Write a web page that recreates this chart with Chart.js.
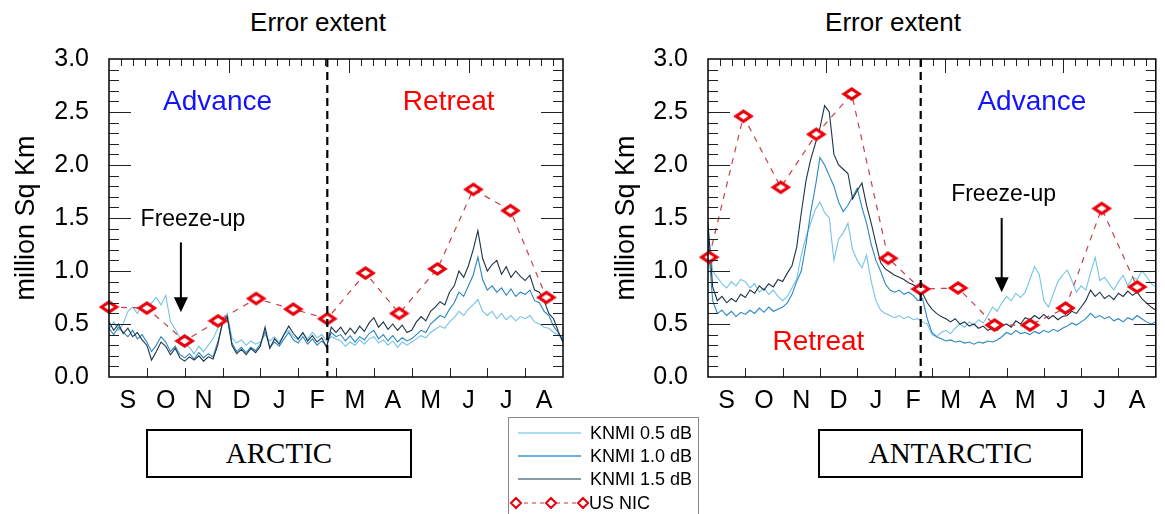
<!DOCTYPE html>
<html>
<head>
<meta charset="utf-8">
<script src="https://cdn.jsdelivr.net/npm/chart.js@4.4.1/dist/chart.umd.min.js"></script>
<style>
body { margin:0; width:1165px; height:514px; background:#fff; overflow:hidden; position:relative;
       font-family:"Liberation Sans", Arial, Helvetica, sans-serif; }
.panel { position:absolute; top:0; }
.ttl { position:absolute; top:7px; font-size:26px; transform:translateX(-50%); white-space:nowrap; color:#000; }
.region { position:absolute; top:429px; height:49px; border:2px solid #000; box-sizing:border-box;
          font-family:"Liberation Serif", "Times New Roman", serif; font-size:29px;
          display:flex; align-items:center; justify-content:center; }
.legend { position:absolute; left:508px; top:417px; width:191px; height:110px; border:1px solid #888; box-sizing:border-box; }
.legend .row { position:absolute; left:0; height:22px; width:100%; }
.legend svg { position:absolute; left:0; top:0; }
.legend span { position:absolute; left:81px; top:0; font-size:18px; line-height:22px; }
</style>
</head>
<body>
<div class="ttl" style="left:318px">Error extent</div>
<div class="ttl" style="left:893px">Error extent</div>

<div class="panel" style="left:0; width:580px; height:420px"><canvas id="arctic" width="580" height="420"></canvas></div>
<div class="panel" style="left:600px; width:565px; height:420px"><canvas id="antarctic" width="565" height="420"></canvas></div>

<div class="region" style="left:146px; width:266px">ARCTIC</div>
<div class="region" style="left:818px; width:265px">ANTARCTIC</div>

<div class="legend">
  <div class="row" style="top:4px"><svg width="80" height="22"><line x1="9" y1="11" x2="72" y2="11" stroke="#8fcfe8" stroke-width="1.5"/></svg><span>KNMI 0.5 dB</span></div>
  <div class="row" style="top:27px"><svg width="80" height="22"><line x1="9" y1="11" x2="72" y2="11" stroke="#3a97d4" stroke-width="1.5"/></svg><span>KNMI 1.0 dB</span></div>
  <div class="row" style="top:50px"><svg width="80" height="22"><line x1="9" y1="11" x2="72" y2="11" stroke="#8a9ba6" stroke-width="2"/></svg><span>KNMI 1.5 dB</span></div>
  <div class="row" style="top:74px"><svg width="80" height="22">
    <line x1="7" y1="11" x2="74" y2="11" stroke="#d0303a" stroke-width="1.2" stroke-dasharray="4,4"/>
    <path d="M2 11 L7 6 L12 11 L7 16 Z M37 11 L42 6 L47 11 L42 16 Z M69 11 L74 6 L79 11 L74 16 Z" fill="#fff" stroke="#e8000b" stroke-width="2"/>
  </svg><span style="left:80px">US NIC</span></div>
</div>

<script>
// month letters along the bottom, Sep..Aug
const months = ['S','O','N','D','J','F','M','A','M','J','J','A'];
const step = 0.125;          // months between KNMI samples

// Arctic, KNMI error extent (million sq km)
const arcLo = [0.45,0.52,0.44,0.50,0.62,0.66,0.60,0.68,
  0.64,0.70,0.75,0.68,0.77,0.52,0.45,0.37,
  0.32,0.28,0.22,0.29,0.24,0.30,0.36,0.46,
  0.55,0.60,0.37,0.32,0.35,0.30,0.34,0.31,
  0.33,0.40,0.34,0.38,0.33,0.40,0.44,0.38,
  0.35,0.41,0.36,0.42,0.37,0.40,0.34,0.38,
  0.36,0.34,0.29,0.33,0.30,0.35,0.31,0.36,
  0.38,0.32,0.35,0.30,0.34,0.28,0.33,0.30,
  0.33,0.36,0.39,0.37,0.42,0.45,0.48,0.46,
  0.52,0.56,0.62,0.58,0.64,0.68,0.73,0.62,
  0.58,0.62,0.55,0.60,0.54,0.58,0.53,0.57,
  0.55,0.58,0.52,0.50,0.47,0.46,0.42,0.40,
  0.37];
const arcMid = [0.46,0.40,0.47,0.42,0.38,0.44,0.36,0.40,
  0.33,0.24,0.30,0.38,0.33,0.24,0.29,0.21,
  0.18,0.22,0.17,0.23,0.18,0.22,0.19,0.33,
  0.50,0.56,0.32,0.24,0.28,0.23,0.28,0.25,
  0.31,0.43,0.28,0.33,0.29,0.36,0.42,0.35,
  0.32,0.38,0.31,0.36,0.30,0.34,0.29,0.42,
  0.38,0.40,0.34,0.39,0.33,0.38,0.35,0.41,
  0.44,0.36,0.40,0.34,0.39,0.33,0.37,0.34,
  0.36,0.40,0.44,0.42,0.50,0.54,0.58,0.56,
  0.64,0.70,0.80,0.76,0.86,0.96,1.13,0.92,
  0.82,0.86,0.80,0.84,0.77,0.83,0.76,0.80,
  0.78,0.82,0.72,0.70,0.62,0.58,0.48,0.42,
  0.33];
const arcHi = [0.52,0.44,0.50,0.41,0.46,0.38,0.42,0.35,
  0.30,0.16,0.24,0.33,0.29,0.21,0.27,0.18,
  0.15,0.19,0.16,0.20,0.15,0.19,0.17,0.30,
  0.52,0.57,0.30,0.22,0.26,0.21,0.27,0.23,
  0.29,0.47,0.27,0.36,0.31,0.40,0.48,0.41,
  0.36,0.42,0.34,0.39,0.33,0.37,0.28,0.47,
  0.42,0.47,0.40,0.46,0.41,0.48,0.43,0.51,
  0.56,0.47,0.52,0.45,0.50,0.44,0.49,0.42,
  0.44,0.52,0.57,0.53,0.62,0.66,0.71,0.68,
  0.80,0.86,1.00,0.94,1.05,1.20,1.38,1.12,
  1.00,1.06,1.10,0.97,1.04,0.94,1.00,0.95,
  0.91,0.96,0.82,0.80,0.72,0.60,0.55,0.43,
  0.33];
const arcNicX = [0, 1.0, 2.0, 2.88, 3.89, 4.87, 5.77, 6.78, 7.67, 8.68, 9.63, 10.61, 11.56];
const arcNic  = [0.66, 0.65, 0.34, 0.53, 0.74, 0.64, 0.55, 0.98, 0.60, 1.02, 1.77, 1.57, 0.75];

// Antarctic
const antLo = [1.40,1.00,0.94,0.88,0.84,0.90,0.86,0.92,
  0.90,0.84,0.88,0.80,0.84,0.78,0.82,0.76,
  0.72,0.76,0.84,0.92,1.15,1.32,1.45,1.58,
  1.65,1.55,1.50,1.10,1.30,1.36,1.45,1.20,
  1.10,1.03,1.15,0.90,0.72,0.63,0.60,0.58,
  0.56,0.58,0.55,0.57,0.54,0.55,0.52,0.50,
  0.40,0.38,0.42,0.44,0.41,0.46,0.50,0.47,
  0.52,0.49,0.54,0.51,0.58,0.66,0.62,0.70,
  0.76,0.72,0.79,0.75,0.80,0.92,1.04,0.97,
  0.72,0.66,0.78,0.90,0.96,1.01,0.91,0.80,
  0.86,0.82,0.98,1.13,0.91,0.94,0.88,0.82,
  0.90,0.96,0.86,0.94,0.92,1.00,0.95,0.88,
  0.85];
const antMid = [1.30,0.72,0.60,0.63,0.58,0.62,0.57,0.61,
  0.59,0.63,0.60,0.65,0.61,0.66,0.62,0.64,
  0.66,0.70,0.78,0.90,1.00,1.25,1.55,1.79,
  2.07,2.00,1.90,1.80,1.65,1.56,1.62,1.70,
  1.78,1.60,1.45,1.25,1.10,1.00,0.88,0.82,
  0.80,0.82,0.78,0.80,0.77,0.72,0.74,0.55,
  0.42,0.38,0.36,0.34,0.35,0.33,0.34,0.32,
  0.33,0.31,0.33,0.32,0.34,0.33,0.35,0.38,
  0.42,0.40,0.44,0.41,0.42,0.40,0.43,0.41,
  0.44,0.42,0.45,0.43,0.46,0.48,0.51,0.49,
  0.52,0.55,0.60,0.56,0.58,0.55,0.57,0.53,
  0.55,0.52,0.56,0.54,0.58,0.55,0.52,0.50,
  0.52];
const antHi = [1.45,0.85,0.72,0.76,0.70,0.74,0.71,0.78,
  0.75,0.82,0.79,0.86,0.82,0.88,0.85,0.92,
  0.90,0.98,1.05,1.22,1.55,1.85,2.05,2.20,
  2.35,2.56,2.50,2.10,2.00,1.96,1.92,1.68,
  1.76,1.83,1.62,1.45,1.26,1.08,1.02,0.99,
  0.96,0.94,0.92,0.89,0.87,0.84,0.79,0.70,
  0.64,0.60,0.57,0.55,0.52,0.55,0.50,0.52,
  0.48,0.50,0.46,0.48,0.44,0.46,0.44,0.48,
  0.50,0.47,0.53,0.50,0.56,0.54,0.58,0.55,
  0.59,0.55,0.58,0.54,0.57,0.58,0.62,0.60,
  0.66,0.72,0.82,0.76,0.80,0.74,0.77,0.73,
  0.79,0.76,0.81,0.77,0.80,0.74,0.70,0.66,
  0.63];
const antNicX = [0.03, 0.95, 1.95, 2.9, 3.85, 4.83, 5.7, 6.7, 7.68, 8.63, 9.58, 10.55, 11.5];
const antNic  = [1.13, 2.46, 1.79, 2.29, 2.67, 1.12, 0.83, 0.84, 0.49, 0.49, 0.65, 1.59, 0.85];

// open diamond used as the NIC marker
function diamond(w, h, lw) {
  const c = document.createElement('canvas');
  c.width = w + lw * 2; c.height = h + lw * 2;
  const g = c.getContext('2d');
  const cx = c.width / 2, cy = c.height / 2;
  g.beginPath();
  g.moveTo(cx - w / 2, cy); g.lineTo(cx, cy - h / 2); g.lineTo(cx + w / 2, cy); g.lineTo(cx, cy + h / 2);
  g.closePath();
  g.fillStyle = '#fff'; g.fill();
  g.strokeStyle = '#e8000b'; g.lineWidth = lw; g.stroke();
  return c;
}
const nicMark = diamond(15, 10, 3.2);

const series = vals => vals.map((v, i) => ({x: i * step, y: v}));
const pairs = (xs, ys) => xs.map((x, i) => ({x: x, y: ys[i]}));

// frame, inward ticks, season split, notes and arrow
const decor = {
  id: 'decor',
  afterDatasetsDraw(chart, args, opts) {
    const {ctx, chartArea: a, scales: {x, y}} = chart;
    const seg = (x1, y1, x2, y2) => { ctx.beginPath(); ctx.moveTo(x1, y1); ctx.lineTo(x2, y2); ctx.stroke(); };
    ctx.save();
    ctx.strokeStyle = '#222';
    ctx.lineWidth = 1;
    for (let k = 1; k < 30; k++) {
      const py = Math.round(y.getPixelForValue(k / 10)) + 0.5;
      const len = k % 5 === 0 ? 22 : 10;
      seg(a.left, py, a.left + len, py);
      seg(a.right, py, a.right - len, py);
    }
    for (let m = 1; m < 12; m++) {
      const px = Math.round(x.getPixelForValue(m)) + 0.5;
      seg(px, a.bottom, px, a.bottom - 9);
    }
    for (let d = 10; d < 378; d += 10) {
      const px = Math.round(x.getPixelForValue(d * 12 / 378)) + 0.5;
      seg(px, a.top, px, a.top + (d % 100 === 0 ? 14 : 7));
    }
    ctx.strokeStyle = '#000';
    ctx.lineWidth = 1.5;
    ctx.strokeRect(a.left, a.top, a.right - a.left, a.bottom - a.top);

    ctx.setLineDash([8, 5]);
    ctx.lineWidth = 2.2;
    const sx = x.getPixelForValue(opts.split);
    seg(sx, a.top, sx, a.bottom);
    ctx.setLineDash([]);

    ctx.textAlign = 'center';
    ctx.textBaseline = 'middle';
    opts.notes.forEach(n => {
      ctx.font = n.font;
      ctx.fillStyle = n.color;
      ctx.fillText(n.text, x.getPixelForValue(n.x), y.getPixelForValue(n.y));
    });

    const ax = x.getPixelForValue(opts.arrow.x);
    const y1 = y.getPixelForValue(opts.arrow.from), y2 = y.getPixelForValue(opts.arrow.to);
    ctx.strokeStyle = '#000';
    ctx.lineWidth = 2;
    seg(ax, y1, ax, y2 - 12);
    ctx.fillStyle = '#000';
    ctx.beginPath();
    ctx.moveTo(ax, y2); ctx.lineTo(ax - 7, y2 - 15); ctx.lineTo(ax + 7, y2 - 15);
    ctx.closePath(); ctx.fill();
    ctx.restore();
  }
};

const sans = '"Liberation Sans", Arial, Helvetica, sans-serif';

function makePanel(id, lo, mid, hi, nic, axisWidth, padRight, decorOpts) {
  const ctx = document.getElementById(id).getContext('2d');
  return new Chart(ctx, {
    type: 'line',
    data: {
      datasets: [
        {label: 'US NIC', data: nic, order: 0, borderColor: '#c8404a', borderWidth: 1.2, borderDash: [6, 6],
         pointStyle: nicMark, pointRadius: 8, clip: false},
        {label: 'KNMI 1.5 dB', data: series(hi), order: 1, borderColor: '#1d3345', borderWidth: 1.1, pointRadius: 0},
        {label: 'KNMI 1.0 dB', data: series(mid), order: 2, borderColor: '#2a86c2', borderWidth: 1.1, pointRadius: 0},
        {label: 'KNMI 0.5 dB', data: series(lo), order: 3, borderColor: '#74c3e6', borderWidth: 1.1, pointRadius: 0}
      ]
    },
    options: {
      responsive: false,
      animation: false,
      layout: {padding: {top: 59, right: padRight, bottom: 0, left: 0}},
      plugins: {legend: {display: false}, tooltip: {enabled: false}, decor: decorOpts},
      scales: {
        x: {
          type: 'linear', min: 0, max: 12,
          grid: {display: false}, border: {display: false},
          afterBuildTicks: s => { s.ticks = months.map((m, i) => ({value: i + 0.5})); },
          afterFit: s => { s.height = 43; },
          ticks: {autoSkip: false, maxRotation: 0, padding: 1, color: '#000',
                  font: {family: sans, size: 25}, callback: (v, i) => months[i]}
        },
        y: {
          min: 0, max: 3,
          grid: {display: false}, border: {display: false},
          afterFit: s => { s.width = axisWidth; },
          ticks: {stepSize: 0.5, padding: 12, color: '#000', font: {family: sans, size: 25},
                  callback: v => v.toFixed(1)},
          title: {display: true, text: 'million Sq Km', color: '#000', font: {family: sans, size: 27},
                  padding: {top: 10, bottom: 0}}
        }
      }
    },
    plugins: [decor]
  });
}

makePanel('arctic', arcLo, arcMid, arcHi, pairs(arcNicX, arcNic), 109, 17, {
  split: 5.77,
  notes: [
    {text: 'Advance', x: 2.87, y: 2.59, color: '#1414ff', font: '28px ' + sans},
    {text: 'Retreat', x: 8.98, y: 2.59, color: '#ff0000', font: '28px ' + sans},
    {text: 'Freeze-up', x: 2.22, y: 1.48, color: '#000', font: '23px ' + sans}
  ],
  arrow: {x: 1.9, from: 1.27, to: 0.61}
});

makePanel('antarctic', antLo, antMid, antHi, pairs(antNicX, antNic), 108, 2, {
  split: 5.7,
  notes: [
    {text: 'Advance', x: 8.68, y: 2.59, color: '#1414ff', font: '28px ' + sans},
    {text: 'Retreat', x: 2.96, y: 0.33, color: '#ff0000', font: '28px ' + sans},
    {text: 'Freeze-up', x: 7.92, y: 1.72, color: '#000', font: '23px ' + sans}
  ],
  arrow: {x: 7.87, from: 1.5, to: 0.8}
});
</script>
</body>
</html>
